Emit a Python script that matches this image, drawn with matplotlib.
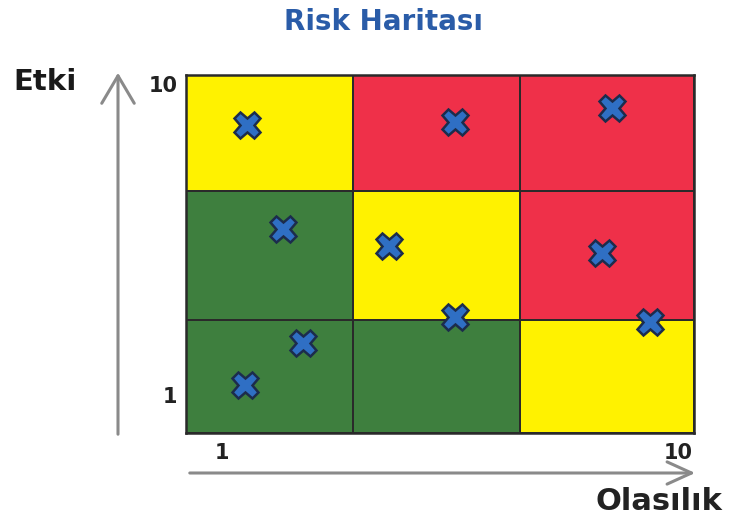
import matplotlib
matplotlib.use("Agg")
import matplotlib.pyplot as plt
from matplotlib.colors import ListedColormap
from matplotlib.patches import FancyArrowPatch
import numpy as np

# constants
my_dpi = 100
W, H = 729, 529

# risk zones (rows bottom -> top, cols left -> right): 0 green, 1 yellow, 2 red
zone_levels = [[0, 0, 1],
               [0, 1, 2],
               [1, 2, 2]]
zone_colors = ["#3e7f3e", "#fff200", "#ef3049"]
x_edges = [0.29, 3.59, 6.88, 10.32]
y_edges = [-0.10, 3.17, 6.90, 10.26]

# risks: probability (olasilik) and impact (etki)
olasilik = [1.5, 5.6, 8.7, 2.2, 4.3, 8.5, 5.6, 9.45, 2.6, 1.45]
etki = [8.8, 8.9, 9.3, 5.8, 5.3, 5.1, 3.25, 3.1, 2.5, 1.3]

tick_vals = [1, 10]
tick_labels = ["1", "10"]

plt.rcParams['font.family'] = ['DejaVu Sans']

fig = plt.figure(figsize=(W / my_dpi, H / my_dpi), dpi=my_dpi)
ax = fig.add_axes([186 / W, 1 - 433 / H, (694 - 186) / W, (433 - 75) / H])

ax.pcolormesh(x_edges, y_edges, np.array(zone_levels), cmap=ListedColormap(zone_colors),
              vmin=-0.5, vmax=2.5, edgecolors="#2a2a2a", linewidth=1.3)
ax.plot(olasilik, etki, linestyle="none", marker="X", markersize=19,
        markerfacecolor="#2f6fc4", markeredgecolor="#1c2c4c", markeredgewidth=1.8)

ax.set_xlim(x_edges[0], x_edges[-1])
ax.set_ylim(y_edges[0], y_edges[-1])
ax.set_xticks(tick_vals)
ax.set_xticklabels(tick_labels, fontsize=15, fontweight="bold", color="#222222")
ax.set_yticks(tick_vals)
ax.set_yticklabels(tick_labels, fontsize=15, fontweight="bold", color="#222222")
ax.tick_params(length=0)
ax.tick_params(axis="x", pad=7)
ax.tick_params(axis="y", pad=6)
for s in ax.spines.values():
    s.set_color("#2a2a2a")
    s.set_linewidth(1.8)

# axis arrows
fig.add_artist(FancyArrowPatch(
    (118 / W, 1 - 437 / H), (118 / W, 1 - 70 / H), transform=fig.transFigure,
    arrowstyle="->,head_length=1.1,head_width=0.65", color="#8a8a8a", lw=2.2, mutation_scale=18))
fig.add_artist(FancyArrowPatch(
    (187 / W, 1 - 473 / H), (698 / W, 1 - 473 / H), transform=fig.transFigure,
    arrowstyle="->,head_length=1.1,head_width=0.5", color="#8a8a8a", lw=2.2, mutation_scale=16))

fig.text(383 / W, 1 - 22 / H, "Risk Haritası", ha="center", va="center",
         fontsize=20, fontweight="bold", color="#2a5ca8")
fig.text(13 / W, 1 - 82 / H, "Etki", ha="left", va="center",
         fontsize=21, fontweight="bold", color="#1a1a1a")
fig.text(722 / W, 1 - 502 / H, "Olasılık", ha="right", va="center",
         fontsize=22, fontweight="bold", color="#222222")

fig.savefig("out.png", dpi=my_dpi)
